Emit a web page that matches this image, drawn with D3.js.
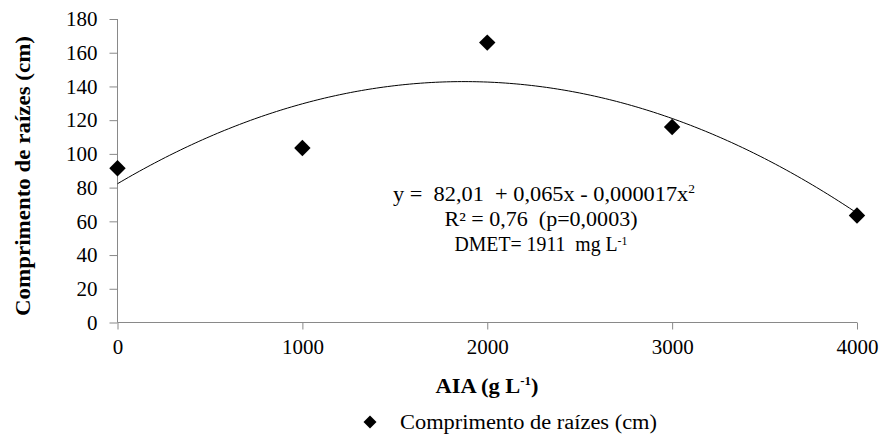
<!DOCTYPE html>
<html><head><meta charset="utf-8">
<script src="https://cdn.jsdelivr.net/npm/d3@7"></script>
<style>body{margin:0;background:#fff}svg{display:block}</style>
</head><body>
<svg id="c" width="880" height="434"></svg>
<script>
const doses = [0, 1000, 2000, 3000, 4000];
const comprimento = [91.5, 103.5, 166, 116, 63.5];
const yTicks = [0, 20, 40, 60, 80, 100, 120, 140, 160, 180];
const xTicks = [0, 1000, 2000, 3000, 4000];
const eqLines = ["y =  82,01  + 0,065x - 0,000017x", "R² = 0,76  (p=0,0003)", "DMET= 1911  mg L"];
const yTitle = "Comprimento de raízes (cm)";
const xTitle = ["AIA (g L", "-1", ")"];
const legendLabel = "Comprimento de raízes (cm)";

const FONT = '"Liberation Serif", monospace';
const svg = d3.select("#c");
const x = d3.scaleLinear().domain([0, 4000]).range([117.5, 857]);
const y = d3.scaleLinear().domain([0, 180]).range([322.5, 19]);

function quadFit(xs, ys){
  let S = [0,0,0,0,0], T = [0,0,0];
  xs.forEach((xv,i)=>{ for(let k=0;k<5;k++) S[k]+=Math.pow(xv,k); for(let k=0;k<3;k++) T[k]+=ys[i]*Math.pow(xv,k); });
  const A = [[S[0],S[1],S[2],T[0]],[S[1],S[2],S[3],T[1]],[S[2],S[3],S[4],T[2]]];
  for(let i=0;i<3;i++){ for(let j=i+1;j<3;j++){ const f=A[j][i]/A[i][i]; for(let k=i;k<4;k++) A[j][k]-=f*A[i][k]; } }
  const c=[0,0,0];
  for(let i=2;i>=0;i--){ let s=A[i][3]; for(let k=i+1;k<3;k++) s-=A[i][k]*c[k]; c[i]=s/A[i][i]; }
  return c;
}
const c = quadFit(doses.map(d=>d/1000), comprimento);
const curve = d3.range(0, 4000.1, 20).map(d=>{const t=d/1000; return [d, c[0]+c[1]*t+c[2]*t*t];});

const axisColor = "#898989";
const ya = svg.append("g").attr("transform","translate(117.5,0)")
  .call(d3.axisLeft(y).tickValues(yTicks).tickSize(8).tickPadding(12).tickFormat(d3.format("d")));
const xa = svg.append("g").attr("transform","translate(0,322.5)")
  .call(d3.axisBottom(x).tickValues(xTicks).tickSize(7).tickPadding(10).tickFormat(d3.format("d")));
[ya, xa].forEach(g=>{
  g.attr("font-family", null).attr("font-size", null);
  g.select(".domain").attr("stroke",axisColor).attr("stroke-width",1);
  g.selectAll(".tick line").attr("stroke",axisColor);
  g.selectAll(".tick text").style("font-family",FONT).attr("font-size","21px").attr("fill","#000");
});
ya.select(".domain").attr("d","M0,19V322.5");
xa.select(".domain").attr("d","M117.5,0H857");

svg.append("path").datum(curve)
  .attr("d", d3.line().x(d=>x(d[0])).y(d=>y(d[1])))
  .attr("fill","none").attr("stroke","#000").attr("stroke-width",1);

const sym = d3.symbol(d3.symbolSquare, 135);
svg.selectAll(".pt").data(doses).join("path")
  .attr("d", sym).attr("fill","#000")
  .attr("transform",(d,i)=>`translate(${x(d)},${y(comprimento[i])}) rotate(45)`);

function txt(xp, yp, size, anchor, len){
  const t = svg.append("text").attr("x",xp).attr("y",yp).attr("text-anchor",anchor||"middle")
    .style("font-family",FONT).attr("font-size",size).style("white-space","pre").attr("fill","#000");
  if (len) t.attr("textLength", len).attr("lengthAdjust","spacingAndGlyphs");
  return t;
}
function sup(t, s, dy){ t.append("tspan").style("font-family",FONT).attr("font-size","12px").attr("dy",dy||-8).text(s); }
const t1 = txt(544, 201, "20px", "middle", 302);
t1.append("tspan").style("font-family",FONT).text(eqLines[0]);
sup(t1, "2");
txt(541, 226, "20px", "middle", 193).text(eqLines[1]);
const t3 = txt(541, 251, "20px", "middle", 173);
t3.append("tspan").style("font-family",FONT).text(eqLines[2]);
sup(t3, "-1", -6);

svg.append("text").attr("transform","translate(30,176) rotate(-90)").attr("text-anchor","middle")
  .style("font-family",FONT).attr("font-size","21px").attr("font-weight","bold").attr("fill","#000")
  .attr("textLength",280).attr("lengthAdjust","spacingAndGlyphs").text(yTitle);
const xt = txt(487, 393, "21px", "middle", 103).attr("font-weight","bold");
xt.append("tspan").style("font-family",FONT).text(xTitle[0]);
sup(xt, xTitle[1]);
xt.append("tspan").style("font-family",FONT).attr("dy",8).text(xTitle[2]);

svg.append("path").attr("d", d3.symbol(d3.symbolSquare, 85)).attr("fill","#000").attr("transform","translate(370,422) rotate(45)");
txt(400, 429, "20.5px", "start", 257).text(legendLabel);
</script>
</body></html>
